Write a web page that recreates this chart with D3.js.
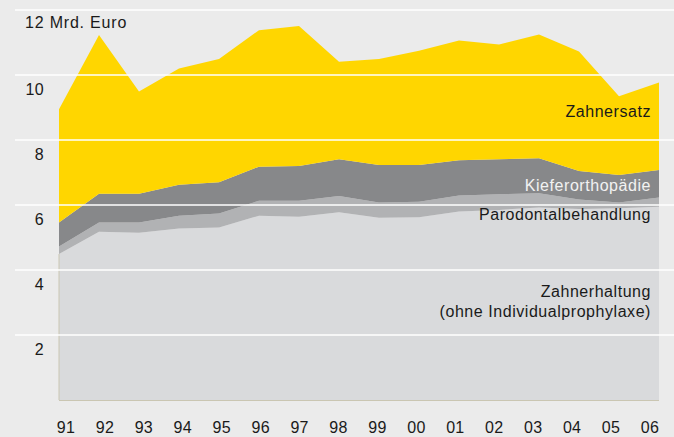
<!DOCTYPE html>
<html>
<head>
<meta charset="utf-8">
<script src="https://cdn.jsdelivr.net/npm/d3@7"></script>
<style>
    body { margin: 0; background: #ebebeb; }
    svg { display: block; font-family: "Liberation Sans", Arial, sans-serif; }
</style>
</head>
<body>
<div id="chart"></div>
<script>
var years = ["91", "92", "93", "94", "95", "96", "97", "98", "99", "00", "01", "02", "03", "04", "05", "06"];
var zahnerhaltung = [4.49, 5.18, 5.15, 5.28, 5.31, 5.67, 5.64, 5.78, 5.61, 5.62, 5.80, 5.85, 5.92, 5.88, 5.90, 5.95];
var parodontal = [0.23, 0.28, 0.31, 0.39, 0.43, 0.46, 0.49, 0.50, 0.47, 0.48, 0.49, 0.48, 0.44, 0.29, 0.18, 0.28];
var kieferortho = [0.74, 0.89, 0.89, 0.95, 0.96, 1.05, 1.07, 1.13, 1.15, 1.13, 1.09, 1.08, 1.08, 0.88, 0.84, 0.85];
var zahnersatz = [3.49, 4.88, 3.14, 3.58, 3.79, 4.20, 4.31, 3.00, 3.26, 3.52, 3.68, 3.53, 3.81, 3.67, 2.43, 2.69];
var yTicks = [2, 4, 6, 8, 10, 12];
var keys = ["zahnerhaltung", "parodontal", "kieferortho", "zahnersatz"];

(function() {
    var width = 674, height = 437;
    var colors = {
        zahnerhaltung: "#d9dadc",
        parodontal: "#b1b2b4",
        kieferortho: "#87888a",
        zahnersatz: "#ffd600"
    };

    var rows = years.map(function(y, i) {
        return {
            year: y,
            zahnerhaltung: zahnerhaltung[i],
            parodontal: parodontal[i],
            kieferortho: kieferortho[i],
            zahnersatz: zahnersatz[i]
        };
    });

    var x = d3.scalePoint().domain(years).range([59, 659]);
    // tick labels sit on a slightly narrower band than the data points
    var xLab = d3.scalePoint().domain(years).range([66, 650]);
    var y = d3.scaleLinear().domain([0, 12]).range([400, 10]);

    var svg = d3.select("#chart")
        .append("svg")
        .attr("width", width)
        .attr("height", height);

    svg.append("rect")
        .attr("width", width)
        .attr("height", height)
        .attr("fill", "#ebebeb");

    var series = d3.stack().keys(keys)(rows);

    var area = d3.area()
        .x(function(d) { return x(d.data.year); })
        .y0(function(d) { return y(d[0]); })
        .y1(function(d) { return y(d[1]); });

    svg.selectAll(".layer")
        .data(series)
        .enter()
        .append("path")
        .attr("class", "layer")
        .attr("d", area)
        .attr("fill", function(d) { return colors[d.key]; });

    // thin frame at the left and bottom of the plot
    svg.append("line")
        .attr("x1", x(years[0])).attr("x2", x(years[0]))
        .attr("y1", y(0)).attr("y2", y(zahnerhaltung[0]))
        .attr("stroke", "#cac6b2").attr("stroke-width", 1);
    svg.append("line")
        .attr("x1", x(years[0])).attr("x2", x(years[years.length - 1]))
        .attr("y1", y(0) + 0.5).attr("y2", y(0) + 0.5)
        .attr("stroke", "#cac6b2").attr("stroke-width", 1);

    // white gridlines over the areas
    svg.selectAll(".grid")
        .data(yTicks)
        .enter()
        .append("line")
        .attr("class", "grid")
        .attr("x1", 15)
        .attr("x2", width)
        .attr("y1", function(d) { return y(d); })
        .attr("y2", function(d) { return y(d); })
        .attr("stroke", "#ffffff")
        .attr("stroke-width", 1.6);

    svg.selectAll(".ylab")
        .data(yTicks)
        .enter()
        .append("text")
        .attr("class", "ylab")
        .attr("x", function(d) { return d === 12 ? 25 : 44; })
        .attr("y", function(d) { return y(d) + (d === 12 ? 18 : 19.5); })
        .attr("text-anchor", function(d) { return d === 12 ? "start" : "end"; })
        .attr("font-size", "16px")
        .style("letter-spacing", function(d) { return d === 12 ? "0.8px" : "0.3px"; })
        .attr("fill", "#1a1a1a")
        .text(function(d) { return d === 12 ? "12 Mrd. Euro" : d; });

    svg.selectAll(".xlab")
        .data(years)
        .enter()
        .append("text")
        .attr("class", "xlab")
        .attr("x", function(d) { return xLab(d); })
        .attr("y", 433)
        .attr("text-anchor", "middle")
        .attr("font-size", "16px")
        .style("letter-spacing", "0.3px")
        .attr("fill", "#1a1a1a")
        .text(function(d) { return d; });

    var labels = [
        { text: "Zahnersatz", y: 117, color: "#1a1a1a" },
        { text: "Kieferorthopädie", y: 191, color: "#f2f2f2" },
        { text: "Parodontalbehandlung", y: 220, color: "#1a1a1a" },
        { text: "Zahnerhaltung", y: 297, color: "#1a1a1a" },
        { text: "(ohne Individualprophylaxe)", y: 317, color: "#1a1a1a" }
    ];

    svg.selectAll(".slab")
        .data(labels)
        .enter()
        .append("text")
        .attr("class", "slab")
        .attr("x", 651)
        .attr("y", function(d) { return d.y; })
        .attr("text-anchor", "end")
        .attr("font-size", "16px")
        .style("letter-spacing", "0.55px")
        .attr("fill", function(d) { return d.color; })
        .text(function(d) { return d.text; });
})();
</script>
</body>
</html>
